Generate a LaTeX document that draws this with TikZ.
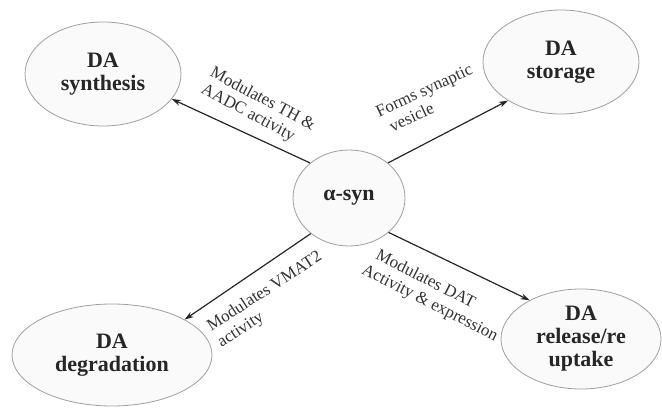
\documentclass[tikz,border=0pt]{standalone}
\usepackage{fontspec}
\setmainfont{Liberation Serif}
\usetikzlibrary{shapes.geometric,arrows.meta}
\begin{document}
\begin{tikzpicture}[x=1pt,y=1pt,
  dabox/.style={ellipse, draw=gray!75, line width=0.8pt, fill=gray!4, inner sep=0pt,
    align=center, font=\bfseries\fontsize{22}{23}\selectfont, text=black!85},
  arr/.style={line width=1.2pt, draw=black!85, -{Stealth[length=9pt,width=6pt]}},
  lbl/.style={align=left, font=\fontsize{17}{19}\selectfont, text=black!80, inner sep=0pt}]
\useasboundingbox (0,0) rectangle (662,408);
\node[dabox, minimum width=156pt, minimum height=104pt] (synth) at (103,334) {DA\\synthesis};
\node[dabox, minimum width=156pt, minimum height=104pt] (store) at (561,346) {DA\\storage};
\node[dabox, minimum width=200pt, minimum height=102pt] (degr) at (112,53) {DA\\degradation};
\node[dabox, minimum width=160pt, minimum height=100pt] (rel) at (581,69) {DA\\release/re\\uptake};
\node[dabox, minimum width=112pt, minimum height=96pt] (asyn) at (349,210) {α-syn};
\draw[arr] (asyn.138) -- (synth.-20);
\draw[arr] (asyn.42) -- (store.216);
\draw[arr] (asyn.223) -- (degr.26);
\draw[arr] (asyn.-41) -- (rel.143);
\node[lbl, rotate=-28] (l1) at (258,300) {Modulates TH \&\\AADC activity};
\node[lbl, rotate=25] (l2) at (428,309) {Forms synaptic\\\hspace{6pt}vesicle};
\node[lbl, rotate=33] (l3) at (270,108) {Modulates VMAT2\\activity};
\node[lbl, rotate=-27] (l4) at (434,113) {\hspace{6pt}Modulates DAT\\Activity \& expression};
\end{tikzpicture}
\end{document}
